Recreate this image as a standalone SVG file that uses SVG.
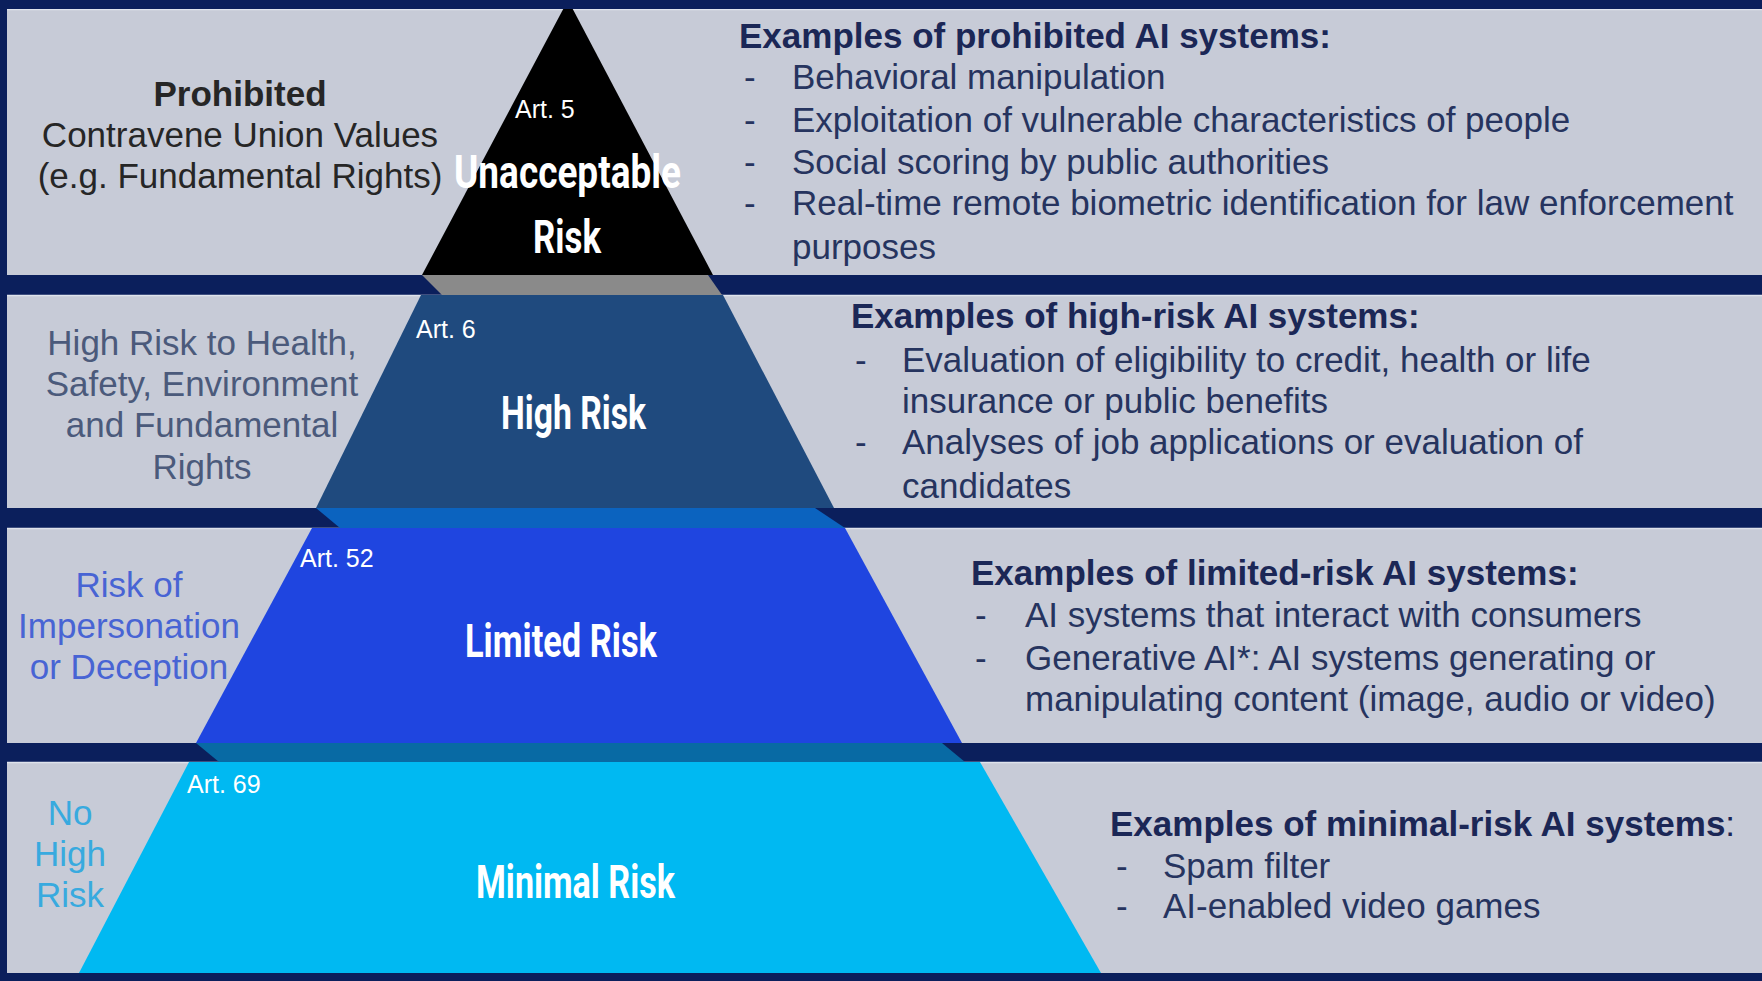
<svg xmlns="http://www.w3.org/2000/svg" width="1762" height="981" viewBox="0 0 1762 981">
  <defs>
    <style>
      .band{fill:#0b1f5c}
      .panel{fill:#c7cbd7}
      .edge{stroke:#dfe3ec;stroke-width:1.5}
      .txt{font-family:"Liberation Sans",Arial,sans-serif;font-size:35px}
      .hd{font-weight:700;fill:#1b2756}
      .it{fill:#26345f}
      .art{font-family:"Liberation Sans",Arial,sans-serif;font-size:25px;fill:#ffffff}
      .big{font-family:Roboto,"Liberation Sans",sans-serif;font-weight:700;font-size:46px;fill:#ffffff}
      .l1{fill:#262626}
      .l2{fill:#4b5a7b}
      .l3{fill:#4864d4}
      .l4{fill:#38aadf}
    </style>
  </defs>

  <!-- navy frame and separators -->
  <rect x="0" y="0" width="1762" height="981" class="band"/>

  <!-- light row panels -->
  <g id="panels">
    <rect x="7" y="9" width="1755" height="266" class="panel"/>
    <rect x="7" y="295" width="1755" height="213" class="panel"/>
    <rect x="7" y="528" width="1755" height="215" class="panel"/>
    <rect x="7" y="762" width="1755" height="211" class="panel"/>
    <line x1="7" y1="9.5" x2="1762" y2="9.5" class="edge"/>
    <line x1="7" y1="295.5" x2="1762" y2="295.5" class="edge"/>
    <line x1="7" y1="528.5" x2="1762" y2="528.5" class="edge"/>
    <line x1="7" y1="762.5" x2="1762" y2="762.5" class="edge"/>
  </g>

  <!-- side faces of the pyramid inside the separator bands -->
  <g id="connectors">
    <polygon points="422,275 708,275 722,295 442,295" fill="#8a8a8a"/>
    <polygon points="316,508 815,508 845,528 340,528" fill="#0b63bf"/>
    <polygon points="196,743 942,743 965,762 219,762" fill="#086aa4"/>
  </g>

  <!-- tier 1 -->
  <g id="tier-unacceptable">
    <polygon points="568,0 713,275 422,275" fill="#000000"/>
    <text class="art" x="515" y="118">Art. 5</text>
    <text class="big" x="454" y="188" textLength="227" lengthAdjust="spacingAndGlyphs">Unacceptable</text>
    <text class="big" x="533" y="253" textLength="68" lengthAdjust="spacingAndGlyphs">Risk</text>
  </g>

  <!-- top rule drawn over the apex -->
  <rect x="0" y="0" width="1762" height="9" class="band"/>

  <g id="desc-unacceptable" class="txt" text-anchor="middle">
    <text x="240" y="106" class="l1" font-weight="700">Prohibited</text>
    <text x="240" y="147" class="l1">Contravene Union Values</text>
    <text x="240" y="188" class="l1">(e.g. Fundamental Rights)</text>
  </g>

  <g id="examples-unacceptable" class="txt">
    <text x="739" y="48" class="hd">Examples of prohibited AI systems:</text>
    <g class="it">
      <text x="744" y="89">-</text>
      <text x="792" y="89">Behavioral manipulation</text>
      <text x="744" y="132">-</text>
      <text x="792" y="132">Exploitation of vulnerable characteristics of people</text>
      <text x="744" y="174">-</text>
      <text x="792" y="174">Social scoring by public authorities</text>
      <text x="744" y="215">-</text>
      <text x="792" y="215">Real-time remote biometric identification for law enforcement</text>
      <text x="792" y="259">purposes</text>
    </g>
  </g>

  <!-- tier 2 -->
  <g id="tier-high">
    <polygon points="421,295 723,295 834,508 316,508" fill="#1f4a7e"/>
    <text class="art" x="416" y="338">Art. 6</text>
    <text class="big" x="501" y="429" textLength="145" lengthAdjust="spacingAndGlyphs">High Risk</text>
  </g>

  <g id="desc-high" class="txt l2" text-anchor="middle">
    <text x="202" y="355">High Risk to Health,</text>
    <text x="202" y="396">Safety, Environment</text>
    <text x="202" y="437">and Fundamental</text>
    <text x="202" y="479">Rights</text>
  </g>

  <g id="examples-high" class="txt">
    <text x="851" y="328" class="hd">Examples of high-risk AI systems:</text>
    <g class="it">
      <text x="855" y="372">-</text>
      <text x="902" y="372">Evaluation of eligibility to credit, health or life</text>
      <text x="902" y="413">insurance or public benefits</text>
      <text x="855" y="454">-</text>
      <text x="902" y="454">Analyses of job applications or evaluation of</text>
      <text x="902" y="498">candidates</text>
    </g>
  </g>

  <!-- tier 3 -->
  <g id="tier-limited">
    <polygon points="312,528 845,528 962,743 196,743" fill="#1f45e0"/>
    <text class="art" x="300" y="567">Art. 52</text>
    <text class="big" x="465" y="657" textLength="192" lengthAdjust="spacingAndGlyphs">Limited Risk</text>
  </g>

  <g id="desc-limited" class="txt l3" text-anchor="middle">
    <text x="129" y="597">Risk of</text>
    <text x="129" y="638">Impersonation</text>
    <text x="129" y="679">or Deception</text>
  </g>

  <g id="examples-limited" class="txt">
    <text x="971" y="585" class="hd">Examples of limited-risk AI systems:</text>
    <g class="it">
      <text x="975" y="627">-</text>
      <text x="1025" y="627">AI systems that interact with consumers</text>
      <text x="975" y="670">-</text>
      <text x="1025" y="670">Generative AI*: AI systems generating or</text>
      <text x="1025" y="711">manipulating content (image, audio or video)</text>
    </g>
  </g>

  <!-- tier 4 -->
  <g id="tier-minimal">
    <polygon points="189,762 980,762 1101,973 79,973" fill="#00b9f2"/>
    <text class="art" x="187" y="793">Art. 69</text>
    <text class="big" x="476" y="898" textLength="199" lengthAdjust="spacingAndGlyphs">Minimal Risk</text>
  </g>

  <g id="desc-minimal" class="txt l4" text-anchor="middle">
    <text x="70" y="825">No</text>
    <text x="70" y="866">High</text>
    <text x="70" y="907">Risk</text>
  </g>

  <g id="examples-minimal" class="txt">
    <text x="1110" y="836" class="hd">Examples of minimal-risk AI systems<tspan font-weight="400">:</tspan></text>
    <g class="it">
      <text x="1116" y="878">-</text>
      <text x="1163" y="878">Spam filter</text>
      <text x="1116" y="918">-</text>
      <text x="1163" y="918">AI-enabled video games</text>
    </g>
  </g>
</svg>
